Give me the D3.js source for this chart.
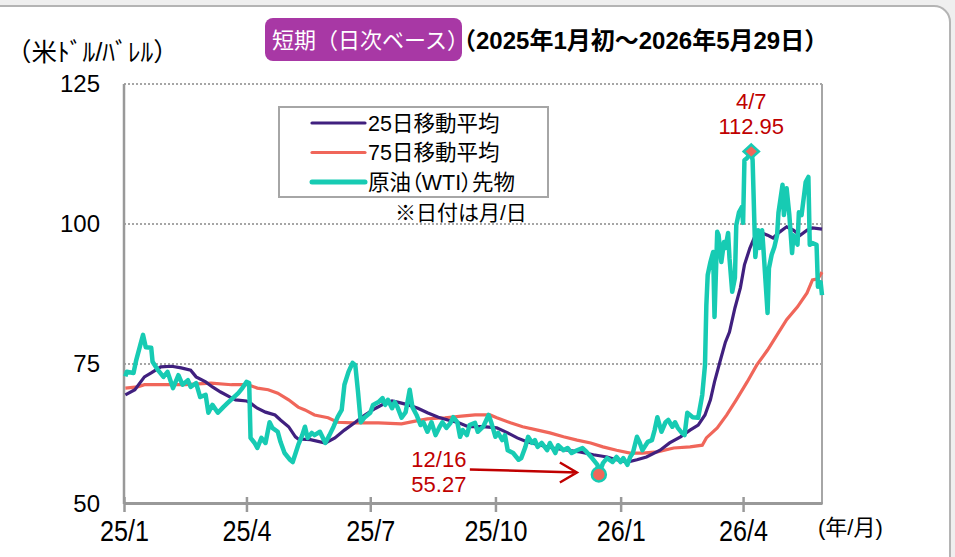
<!DOCTYPE html>
<html>
<head>
<meta charset="utf-8">
<script src="https://cdn.jsdelivr.net/npm/d3@7"></script>
<style>
  body { margin: 0; background: #efefef; }
  svg { display: block; }
</style>
</head>
<body>
<svg id="chart" width="955" height="557"></svg>
<script>
// WTI front-month, daily
const wti = [
  ["2025-01-02",72.8],["2025-01-03",73.6],["2025-01-08",73.4],["2025-01-10",75.7],["2025-01-13",78.4],
  ["2025-01-15",80.2],["2025-01-17",78.0],["2025-01-21",77.9],["2025-01-22",75.4],["2025-01-26",73.9],
  ["2025-01-30",72.7],["2025-02-02",73.6],["2025-02-06",70.7],["2025-02-10",73.0],["2025-02-13",71.3],
  ["2025-02-17",72.1],["2025-02-19",70.9],["2025-02-23",71.6],["2025-02-26",69.1],["2025-03-02",69.5],
  ["2025-03-04",66.3],["2025-03-07",67.7],["2025-03-11",66.3],["2025-03-15",67.3],["2025-03-18",68.0],
  ["2025-03-22",68.9],["2025-03-26",69.8],["2025-03-29",70.7],["2025-04-01",71.8],["2025-04-03",71.6],
  ["2025-04-04",61.8],["2025-04-07",60.9],["2025-04-09",60.0],["2025-04-12",61.8],["2025-04-15",60.9],
  ["2025-04-18",64.6],["2025-04-20",63.6],["2025-04-24",62.9],["2025-04-26",61.1],["2025-04-29",59.1],
  ["2025-05-03",57.9],["2025-05-05",57.5],["2025-05-09",60.5],["2025-05-12",62.3],["2025-05-14",63.8],
  ["2025-05-16",61.8],["2025-05-19",62.7],["2025-05-21",62.3],["2025-05-25",62.9],["2025-05-29",60.9],
  ["2025-06-01",62.3],["2025-06-04",63.8],["2025-06-07",65.5],["2025-06-10",66.8],["2025-06-12",71.3],
  ["2025-06-15",73.6],["2025-06-18",75.2],["2025-06-20",74.8],["2025-06-22",70.0],["2025-06-24",64.6],
  ["2025-06-27",65.5],["2025-07-01",66.3],["2025-07-03",67.7],["2025-07-07",68.2],["2025-07-10",68.9],
  ["2025-07-12",67.7],["2025-07-14",68.6],["2025-07-17",67.1],["2025-07-19",68.2],["2025-07-21",67.3],
  ["2025-07-24",65.4],["2025-07-27",66.4],["2025-07-30",70.4],["2025-08-01",67.3],["2025-08-04",65.9],
  ["2025-08-07",64.1],["2025-08-09",64.6],["2025-08-12",62.9],["2025-08-15",64.6],["2025-08-18",62.3],
  ["2025-08-21",63.8],["2025-08-23",64.6],["2025-08-26",63.6],["2025-08-29",64.5],["2025-08-31",65.5],
  ["2025-09-03",64.6],["2025-09-05",62.0],["2025-09-07",63.2],["2025-09-10",62.3],["2025-09-12",64.1],
  ["2025-09-16",64.5],["2025-09-18",62.9],["2025-09-22",63.8],["2025-09-26",65.9],["2025-09-28",64.5],
  ["2025-10-01",62.0],["2025-10-03",62.7],["2025-10-06",61.4],["2025-10-08",62.3],["2025-10-10",59.6],
  ["2025-10-14",59.1],["2025-10-18",57.9],["2025-10-20",58.2],["2025-10-23",60.2],["2025-10-25",62.0],
  ["2025-10-28",60.9],["2025-10-30",61.4],["2025-11-01",60.2],["2025-11-04",60.9],["2025-11-08",59.6],
  ["2025-11-10",60.9],["2025-11-14",59.1],["2025-11-16",60.5],["2025-11-20",59.6],["2025-11-23",60.0],
  ["2025-11-26",59.1],["2025-11-30",59.6],["2025-12-04",60.0],["2025-12-07",59.3],["2025-12-11",58.2],
  ["2025-12-15",57.0],["2025-12-16",55.27],["2025-12-19",57.3],["2025-12-22",58.2],["2025-12-26",57.5],
  ["2025-12-29",58.4],["2026-01-01",57.5],["2026-01-03",58.2],["2026-01-06",57.0],["2026-01-08",58.4],
  ["2026-01-10",59.1],["2026-01-13",62.0],["2026-01-15",61.0],["2026-01-17",59.6],["2026-01-21",61.1],
  ["2026-01-24",61.4],["2026-01-26",63.2],["2026-01-28",65.5],["2026-01-31",62.9],["2026-02-03",64.6],
  ["2026-02-05",65.0],["2026-02-08",63.8],["2026-02-10",64.6],["2026-02-12",63.6],["2026-02-15",62.7],
  ["2026-02-17",62.3],["2026-02-19",66.3],["2026-02-23",65.5],["2026-02-27",65.4],["2026-03-02",69.5],
  ["2026-03-04",74.8],["2026-03-05",85.5],["2026-03-06",90.9],["2026-03-08",93.2],["2026-03-10",95.0],
  ["2026-03-11",83.4],["2026-03-13",98.6],["2026-03-14",98.0],["2026-03-16",93.2],["2026-03-18",96.8],
  ["2026-03-19",95.7],["2026-03-21",98.4],["2026-03-22",93.9],["2026-03-24",87.9],["2026-03-26",90.4],
  ["2026-03-27",99.8],["2026-03-29",102.1],["2026-03-31",103.0],["2026-04-01",100.2],["2026-04-02",111.4],
  ["2026-04-04",111.8],["2026-04-07",112.95],["2026-04-08",111.4],["2026-04-10",94.1],["2026-04-12",98.9],
  ["2026-04-13",95.7],["2026-04-15",98.9],["2026-04-16",95.4],["2026-04-19",84.1],["2026-04-20",92.1],
  ["2026-04-22",94.5],["2026-04-24",95.9],["2026-04-26",98.0],["2026-04-27",102.0],["2026-04-30",107.0],
  ["2026-05-01",101.6],["2026-05-03",106.4],["2026-05-05",101.6],["2026-05-07",94.8],["2026-05-08",98.0],
  ["2026-05-11",96.3],["2026-05-12",102.1],["2026-05-14",101.6],["2026-05-16",105.5],["2026-05-17",107.5],
  ["2026-05-19",108.4],["2026-05-20",96.3],["2026-05-22",96.6],["2026-05-25",96.3],["2026-05-26",88.8],
  ["2026-05-28",89.6],["2026-05-29",87.3]
];

// 25-day moving average
const ma25 = [
  ["2025-01-02",69.5],["2025-01-09",70.4],["2025-01-16",72.7],["2025-01-21",73.4],["2025-01-28",74.5],
  ["2025-02-05",74.6],["2025-02-12",74.3],["2025-02-19",73.9],["2025-02-23",72.7],["2025-03-02",71.8],
  ["2025-03-07",70.9],["2025-03-13",70.0],["2025-03-20",69.1],["2025-03-24",68.6],["2025-04-01",68.4],
  ["2025-04-04",68.0],["2025-04-09",67.1],["2025-04-15",66.4],["2025-04-22",65.9],["2025-04-26",65.0],
  ["2025-05-02",63.8],["2025-05-07",62.0],["2025-05-09",61.6],["2025-05-18",61.5],["2025-05-29",60.9],
  ["2025-06-05",61.8],["2025-06-12",63.2],["2025-06-20",64.6],["2025-06-27",65.9],["2025-07-05",67.1],
  ["2025-07-12",68.0],["2025-07-17",68.4],["2025-07-21",68.2],["2025-07-29",67.7],["2025-08-05",67.1],
  ["2025-08-12",66.3],["2025-08-20",65.5],["2025-08-27",65.0],["2025-09-04",64.5],["2025-09-11",63.8],
  ["2025-09-22",63.8],["2025-10-02",63.6],["2025-10-10",62.7],["2025-10-17",61.8],["2025-10-24",61.1],
  ["2025-11-03",60.5],["2025-11-12",60.0],["2025-11-23",59.6],["2025-12-02",59.3],["2025-12-12",58.8],
  ["2025-12-22",58.4],["2025-12-29",57.9],["2026-01-06",57.5],["2026-01-13",57.9],["2026-01-20",58.4],
  ["2026-01-30",59.6],["2026-02-06",60.9],["2026-02-14",62.0],["2026-02-21",63.2],["2026-02-27",64.1],
  ["2026-03-04",65.9],["2026-03-08",68.6],["2026-03-11",71.8],["2026-03-15",75.4],["2026-03-19",78.9],
  ["2026-03-22",80.7],["2026-03-26",85.0],["2026-03-30",88.6],["2026-04-02",92.7],["2026-04-06",95.7],
  ["2026-04-10",98.0],["2026-04-13",98.6],["2026-04-19",98.0],["2026-04-23",97.5],["2026-04-28",98.6],
  ["2026-05-03",99.5],["2026-05-08",98.9],["2026-05-13",98.0],["2026-05-18",98.9],["2026-05-22",99.3],
  ["2026-05-29",99.1]
];

// 75-day moving average
const ma75 = [
  ["2025-01-02",70.7],["2025-01-11",70.9],["2025-01-16",71.3],["2025-01-26",71.3],["2025-02-15",71.3],
  ["2025-03-06",71.6],["2025-03-21",71.3],["2025-04-02",71.3],["2025-04-09",70.7],["2025-04-17",70.4],
  ["2025-04-24",69.8],["2025-05-02",68.6],["2025-05-09",67.3],["2025-05-14",66.8],["2025-05-21",65.9],
  ["2025-05-31",65.4],["2025-06-07",64.6],["2025-06-18",64.5],["2025-07-07",64.5],["2025-07-24",64.3],
  ["2025-08-03",64.8],["2025-08-12",65.2],["2025-08-25",65.4],["2025-09-06",65.7],["2025-09-16",65.9],
  ["2025-09-27",65.9],["2025-10-02",65.4],["2025-10-12",64.5],["2025-10-21",63.8],["2025-11-01",63.2],
  ["2025-11-10",62.7],["2025-11-20",62.0],["2025-11-30",61.4],["2025-12-10",60.9],["2025-12-19",60.2],
  ["2025-12-29",59.6],["2026-01-08",59.1],["2026-01-17",59.1],["2026-01-28",59.3],["2026-02-09",60.0],
  ["2026-02-21",60.2],["2026-03-02",60.5],["2026-03-05",61.8],["2026-03-13",63.6],["2026-03-20",65.9],
  ["2026-03-27",68.6],["2026-04-04",71.8],["2026-04-11",74.8],["2026-04-19",77.5],["2026-04-26",80.2],
  ["2026-05-03",82.9],["2026-05-11",85.2],["2026-05-18",87.7],["2026-05-22",90.0],["2026-05-26",90.2],
  ["2026-05-29",91.4]
];

const seriesNames = ["25日移動平均", "75日移動平均", "原油（WTI）先物"];
const xTickDates = ["2025-01-01","2025-04-01","2025-07-01","2025-10-01","2026-01-01","2026-04-01"];
const xTickLabels = ["25/1","25/4","25/7","25/10","26/1","26/4"];
const yTicks = [50, 75, 100, 125];
const peakPoint = ["2026-04-07", 112.95, "4/7"];
const lowPoint = ["2025-12-16", 55.27, "12/16"];

const parse = d3.utcParse("%Y-%m-%d");
const FONT = "'Liberation Sans', Arial, 'Noto Sans CJK JP', sans-serif";
const colTeal = "#17cbb3", colPurple = "#40207f", colCoral = "#f0665a", colRed = "#c00000";

const svg = d3.select("#chart");

// card background
svg.append("rect")
  .attr("x", -20).attr("y", 6).attr("width", 970).attr("height", 600)
  .attr("rx", 16)
  .attr("fill", "#fff").attr("stroke", "#b4b4b4").attr("stroke-width", 2);

const plotL = 124, plotR = 822, plotT = 84, plotB = 504;

const x = d3.scaleUtc()
  .domain([parse("2025-01-01"), parse("2026-05-29")])
  .range([plotL, plotR]);
const y = d3.scaleLinear()
  .domain([50, 125])
  .range([plotB, plotT]);

// dotted gridlines (75,100,125)
svg.append("g").selectAll("line")
  .data(yTicks.filter(v => v > 50))
  .enter().append("line")
  .attr("x1", plotL).attr("x2", plotR)
  .attr("y1", d => y(d)).attr("y2", d => y(d))
  .attr("stroke", "#a6a6a6").attr("stroke-width", 2)
  .attr("stroke-dasharray", "2,2");

// right border
svg.append("line")
  .attr("x1", plotR).attr("x2", plotR).attr("y1", plotT).attr("y2", plotB)
  .attr("stroke", "#a6a6a6").attr("stroke-width", 2);

// y axis
const yAxis = svg.append("g")
  .attr("transform", "translate(" + plotL + ",0)")
  .call(d3.axisLeft(y).tickValues(yTicks).tickSize(0).tickPadding(24));
yAxis.select(".domain").remove();
yAxis.selectAll("text")
  .attr("font-family", FONT).attr("font-size", 24).attr("fill", "#000");
svg.append("line")
  .attr("x1", plotL).attr("x2", plotL).attr("y1", plotT).attr("y2", plotB)
  .attr("stroke", "#999").attr("stroke-width", 2.5);

// x axis
const xAxis = svg.append("g")
  .attr("transform", "translate(0," + (plotB - 1) + ")")
  .call(d3.axisBottom(x)
    .tickValues(xTickDates.map(parse))
    .tickFormat((d, i) => xTickLabels[i])
    .tickSizeInner(9).tickSizeOuter(0));
xAxis.select(".domain").attr("stroke", "#999").attr("stroke-width", 3);
xAxis.selectAll(".tick line").attr("y1", -6).attr("stroke", "#999").attr("stroke-width", 2.5);
xAxis.selectAll("text")
  .attr("y", 38).attr("dy", null)
  .attr("transform", "scale(0.84,1)")
  .attr("font-family", FONT)
  .attr("font-size", 30).attr("fill", "#000");

// lines
const line = d3.line()
  .x(d => x(parse(d[0])))
  .y(d => y(d[1]));

svg.append("path").datum(ma75)
  .attr("d", line).attr("fill", "none")
  .attr("stroke", colCoral).attr("stroke-width", 3.2);
svg.append("path").datum(ma25)
  .attr("d", line).attr("fill", "none")
  .attr("stroke", colPurple).attr("stroke-width", 3.2);
svg.append("path").datum(wti)
  .attr("d", line).attr("fill", "none")
  .attr("stroke", colTeal).attr("stroke-width", 4.5)
  .attr("stroke-linejoin", "round");

// peak marker
const px = x(parse(peakPoint[0])), py = y(peakPoint[1]);
svg.append("path")
  .attr("d", d3.symbol(d3.symbolDiamond2, 120)())
  .attr("transform", "translate(" + px + "," + py + ") scale(1.1,1)")
  .attr("fill", colCoral).attr("stroke", colTeal).attr("stroke-width", 2.5);
svg.append("text").attr("x", px).attr("y", py - 42)
  .attr("text-anchor", "middle").attr("font-family", FONT).attr("font-size", 22)
  .attr("fill", colRed).text(peakPoint[2]);
svg.append("text").attr("x", px).attr("y", py - 17)
  .attr("text-anchor", "middle").attr("font-family", FONT).attr("font-size", 22)
  .attr("fill", colRed).text(peakPoint[1].toFixed(2));

// low marker + arrow
const lx = x(parse(lowPoint[0])), ly = y(lowPoint[1]);
svg.append("circle").attr("cx", lx).attr("cy", ly).attr("r", 7)
  .attr("fill", colCoral).attr("stroke", colTeal).attr("stroke-width", 2.5);
const tipX = lx - 22, tipY = ly - 2;
svg.append("path")
  .attr("d", "M" + (tipX - 107) + "," + (tipY - 3) + "L" + tipX + "," + tipY
    + "M" + (tipX - 17) + "," + (tipY - 10) + "L" + tipX + "," + tipY + "L" + (tipX - 17) + "," + (tipY + 10))
  .attr("fill", "none").attr("stroke", colRed).attr("stroke-width", 2.5);
svg.append("text").attr("x", lx - 160).attr("y", ly - 7)
  .attr("text-anchor", "middle").attr("font-family", FONT).attr("font-size", 22)
  .attr("fill", colRed).text(lowPoint[2]);
svg.append("text").attr("x", lx - 160).attr("y", ly + 18)
  .attr("text-anchor", "middle").attr("font-family", FONT).attr("font-size", 22)
  .attr("fill", colRed).text(lowPoint[1].toFixed(2));

// legend
const legend = svg.append("g");
legend.append("rect")
  .attr("x", 279).attr("y", 107).attr("width", 269).attr("height", 90)
  .attr("fill", "#fff").attr("stroke", "#a6a6a6").attr("stroke-width", 2);
const legendColors = [colPurple, colCoral, colTeal];
const legendWidths = [3.2, 3.2, 5];
seriesNames.forEach((name, i) => {
  const ry = 123 + i * 29.5;
  legend.append("line")
    .attr("x1", 312).attr("x2", 365).attr("y1", ry).attr("y2", ry)
    .attr("stroke", legendColors[i]).attr("stroke-width", legendWidths[i])
    .attr("stroke-linecap", "round");
  legend.append("text")
    .attr("x", 368).attr("y", ry).attr("dy", "0.36em")
    .attr("font-family", FONT).attr("font-size", 21.5).attr("fill", "#000")
    .style("font-feature-settings", "'palt'")
    .text(name);
});
svg.append("text").attr("x", 395).attr("y", 212).attr("dy", "0.36em")
  .attr("font-family", FONT).attr("font-size", 21).attr("fill", "#000")
  .text("※日付は月/日");

// title
svg.append("rect")
  .attr("x", 265).attr("y", 18).attr("width", 197).attr("height", 43).attr("rx", 8)
  .attr("fill", "#a838a5");
svg.append("text").attr("x", 272).attr("y", 40).attr("dy", "0.36em")
  .attr("font-family", FONT).attr("font-size", 22).attr("fill", "#fff")
  .text("短期（日次ベース）");
svg.append("text").attr("x", 452).attr("y", 40).attr("dy", "0.36em")
  .attr("font-family", FONT).attr("font-size", 24).attr("font-weight", "bold").attr("fill", "#000")
  .text("（2025年1月初～2026年5月29日）");

// unit labels
svg.append("text").attr("x", 6).attr("y", 52).attr("dy", "0.36em")
  .attr("font-family", FONT).attr("font-size", 25.5).attr("fill", "#000")
  .text("（米ﾄﾞﾙ/ﾊﾞﾚﾙ）");
svg.append("text").attr("x", 818).attr("y", 527).attr("dy", "0.36em")
  .attr("font-family", FONT).attr("font-size", 22).attr("fill", "#000")
  .text("(年/月)");
</script>
</body>
</html>
